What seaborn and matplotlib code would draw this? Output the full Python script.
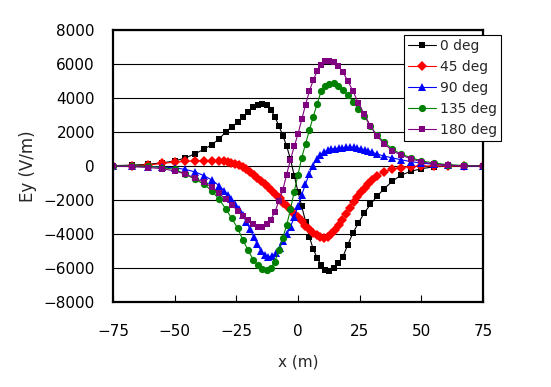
import matplotlib
matplotlib.use("Agg")
import matplotlib.pyplot as plt
import seaborn as sns

# x positions (m) of the measured points
x_coarse = [-75.06, -67.23, -60.62, -54.94, -49.99, -45.61, -41.71, -38.2, -35.0, -32.07,
            -29.37, -26.86, -24.51, -22.3, -20.21, -18.22, -16.32, -14.5, -12.74, -11.04,
            -9.38, -7.76, -6.17, -4.61, -3.06, -1.53, 0, 1.53, 3.06, 4.61,
            6.17, 7.76, 9.38, 11.04, 12.74, 14.5, 16.32, 18.22, 20.21, 22.3,
            24.51, 26.86, 29.37, 32.07, 35.0, 38.2, 41.71, 45.61, 49.99, 54.94,
            60.62, 67.23, 75.06]
x_fine = [-75.06, -67.23, -60.62, -54.94, -49.99, -45.61, -41.71, -38.2, -35.0, -32.07,
          -30, -28.5, -27, -25.5, -24, -22.5, -21, -19.5, -18, -16.5,
          -15, -13.5, -12, -10.5, -9, -7.5, -6, -4.5, -3, -1.5,
          0, 1.5, 3, 4.5, 6, 7.5, 9, 10.5, 12, 13.5,
          15, 16.5, 18, 19.5, 21, 22.5, 24, 25.5, 27, 28.5,
          30, 32.07, 35.0, 38.2, 41.71, 45.61, 49.99, 54.94, 60.62, 67.23, 75.06]

# Ey (V/m) for each angle
ey_0 = [20, 50, 100, 190, 290, 480, 720, 980, 1250, 1580,
        1990, 2310, 2560, 2890, 3190, 3460, 3590, 3630, 3560, 3320,
        2890, 2370, 1790, 1180, 400, -560, -1520, -2380, -3270, -4160,
        -4890, -5400, -5820, -6090, -6160, -5980, -5700, -5330, -4620, -3930,
        -3350, -2760, -2260, -1770, -1330, -900, -540, -320, -160, -50,
        -10, 0, 0]
ey_45 = [0, 10, 60, 150, 230, 270, 300, 310, 310, 300,
         280, 240, 200, 140, 60, -50, -200, -370, -540, -720,
         -900, -1080, -1250, -1450, -1680, -1900, -2150, -2380, -2600, -2800,
         -3000, -3250, -3500, -3720, -3920, -4080, -4200, -4250, -4180, -4000,
         -3750, -3450, -3150, -2800, -2450, -2100, -1800, -1550, -1300, -1050,
         -850, -560, -330, -190, -90, -30, 0, 0, 0, 0, 0]
ey_90 = [0, -10, -30, -60, -110, -200, -350, -560, -820, -1150,
         -1450, -1700, -1950, -2250, -2550, -2880, -3270, -3700, -4150, -4600,
         -4980, -5220, -5330, -5300, -5120, -4800, -4420, -4000, -3560, -3000,
         -2380, -1700, -1080, -480, 20, 400, 660, 830, 930, 990,
         1020, 1050, 1080, 1100, 1100, 1090, 1060, 1020, 960, 890,
         820, 700, 580, 480, 370, 260, 170, 100, 40, 10, 0]
ey_135 = [0, 0, -20, -90, -200, -480, -790, -1060, -1450, -1950,
          -2500, -3080, -3650, -4370, -4960, -5500, -5850, -6080, -6130, -5980,
          -5640, -4920, -4230, -3490, -2550, -1500, -510, 500, 1300, 2100,
          2900, 3650, 4400, 4700, 4850, 4860, 4700, 4450, 4170, 3780,
          3350, 2950, 2350, 1800, 1400, 1000, 700, 500, 300, 180,
          80, 30, 10]
ey_180 = [0, -40, -90, -160, -290, -480, -720, -960, -1250, -1600,
          -1950, -2300, -2620, -2920, -3200, -3420, -3560, -3570, -3420, -3150,
          -2700, -2070, -1420, -500, 370, 1150, 1880, 2750, 3600, 4400,
          5050, 5580, 5950, 6150, 6200, 6100, 5880, 5520, 5000, 4400,
          3700, 3050, 2350, 1750, 1300, 900, 650, 430, 250, 120,
          50, 10, 0]

labels = ["0 deg", "45 deg", "90 deg", "135 deg", "180 deg"]
xs = [x_coarse, x_fine, x_fine, x_coarse, x_coarse]
ys = [ey_0, ey_45, ey_90, ey_135, ey_180]
colors = ["black", "#ff0000", "#0000ff", "#008000", "#800080"]
markers = ["s", "D", "^", "o", "s"]
msizes = [4.0, 4.8, 5.8, 5.2, 4.5]

sns.set_style("white")
plt.rcParams["font.family"] = ["DejaVu Sans", "Noto Sans CJK JP"]

fig = plt.figure(figsize=(5.51, 3.87), dpi=100)
ax = fig.add_axes([113 / 551, 1 - 302 / 387, 370 / 551, 272 / 387])

for x, y, lab, c, m, s in zip(xs, ys, labels, colors, markers, msizes):
    sns.lineplot(x=x, y=y, ax=ax, color=c, marker=m, markersize=s,
                 markeredgewidth=0, linewidth=0.8, label=lab,
                 errorbar=None, sort=False)

ax.set_xlim(-75, 75)
ax.set_ylim(-8000, 8000)
ax.set_xticks(range(-75, 76, 25))
ax.set_yticks(range(-8000, 8001, 2000))
ax.yaxis.grid(True, color="black", linewidth=0.8)
ax.xaxis.grid(False)
for sp in ax.spines.values():
    sp.set_color("black")
    sp.set_linewidth(1.6)
ax.tick_params(axis="x", direction="in", length=5, width=0.8, pad=16,
               labelsize=11, colors="black", bottom=True)
ax.tick_params(axis="y", direction="in", length=0, pad=13, labelsize=11,
               colors="black", left=True)

ax.set_xlabel("x (m)", fontsize=11, va="center")
ax.xaxis.set_label_coords(0.5, (302 - 362) / 272)
ax.set_ylabel("Ey (V/m)", fontsize=12, va="center")
ax.yaxis.set_label_coords((27.5 - 113) / 370, 0.5)

leg = ax.legend(loc="upper left", bbox_to_anchor=(404 / 551, 1 - 35 / 387),
                bbox_transform=fig.transFigure, frameon=True, fancybox=False,
                edgecolor="black", framealpha=1, fontsize=10, borderaxespad=0,
                handlelength=2.0, handletextpad=0.3, labelspacing=0.5,
                borderpad=0.3)
leg.get_frame().set_linewidth(0.8)

fig.savefig("out.png", dpi=100)
